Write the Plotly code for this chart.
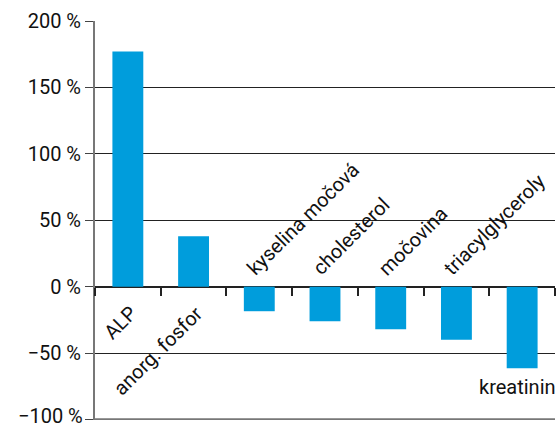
import plotly.graph_objects as go

categories = ["ALP", "anorg. fosfor", "kyselina močová", "cholesterol", "močovina", "triacylglyceroly", "kreatinin"]
values = [177, 38, -18.5, -26, -32, -40, -61.5]
tick_values = [-100, -50, 0, 50, 100, 150, 200]
tick_labels = ["−100 %", "−50 %", "0 %", "50 %", "100 %", "150 %", "200 %"]

FONT = "Roboto, Liberation Sans, Arial, sans-serif"
FS = 20
BAR = "#009ddc"

fig = go.Figure(go.Bar(x=categories, y=values, marker=dict(color=BAR, line=dict(width=0)), width=0.47))

annotations = []
for i, (c, v) in enumerate(zip(categories, values)):
    if i == len(categories) - 1:
        annotations.append(dict(x=c, y=v, text=c, showarrow=False, xanchor="center", yanchor="top",
                                yshift=-5, xshift=-5, textangle=0))
    elif v >= 0:
        annotations.append(dict(x=c, y=0, text=c, showarrow=False, xanchor="right", yanchor="top",
                                textangle=-45, xshift=16, yshift=-12))
    else:
        annotations.append(dict(x=c, y=0, text=c, showarrow=False, xanchor="left", yanchor="bottom",
                                textangle=-45, xshift=-20, yshift=4))

# bottom tick label drawn as text next to the axis end (plotly hides the clipped end label)
annotations.append(dict(xref="paper", x=0, y=tick_values[0], text=tick_labels[0], showarrow=False,
                        xanchor="right", yanchor="middle", xshift=-10, yshift=3))

fig.update_layout(
    width=556, height=428,
    margin=dict(l=95, r=1, t=21, b=8),
    paper_bgcolor="white", plot_bgcolor="white",
    font=dict(family=FONT, size=FS, color="#111"),
    showlegend=False,
    annotations=annotations,
    xaxis=dict(
        type="category", range=[-0.5, len(categories) - 0.5], automargin=False,
        showticklabels=False, showgrid=False, zeroline=False,
        anchor="free", position=1/3, showline=False,
        ticks="outside", tickson="boundaries", ticklen=8, tickwidth=1.5, tickcolor="#222",
    ),
    yaxis=dict(
        range=[-100.4, 200], tickvals=tick_values, ticktext=[""] + tick_labels[1:], automargin=False,
        showgrid=True, gridcolor="#222", gridwidth=1.3,
        zeroline=True, zerolinecolor="#222", zerolinewidth=1.5,
        showline=True, linecolor="#777", linewidth=2,
        ticks="outside", ticklen=8, tickwidth=1.3, tickcolor="#444",
        tickfont=dict(family=FONT, size=FS, color="#111"),
    ),
    shapes=[dict(type="line", xref="paper", yref="y", x0=0, x1=1, y0=-100, y1=-100,
                 line=dict(color="#777", width=2.5))],
)

fig.write_html("out.html")
